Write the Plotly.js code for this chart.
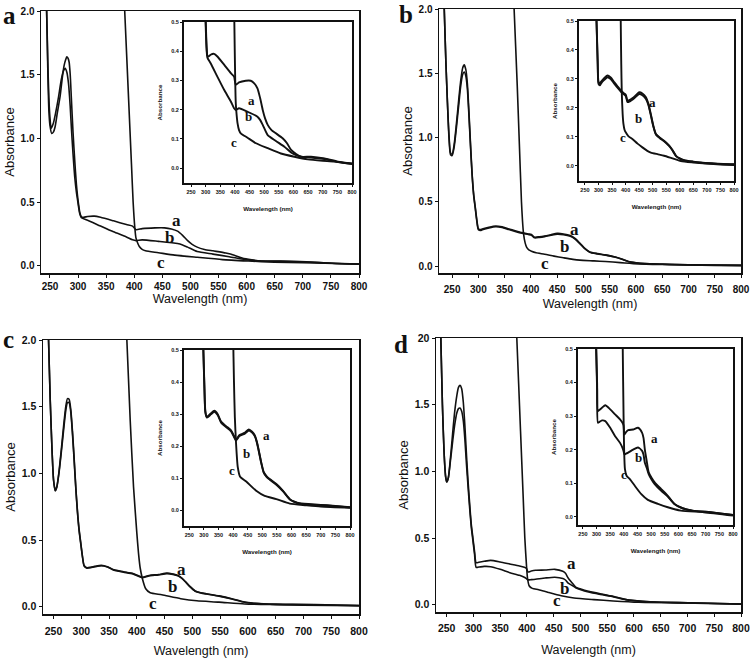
<!DOCTYPE html>
<html><head><meta charset="utf-8">
<script src="https://cdn.plot.ly/plotly-3.0.1.min.js"></script>
<style>html,body{margin:0;padding:0;background:#fff}#chart{width:750px;height:658px}</style>
</head><body><div id="chart"></div>
<script>
// ---------- Panel a ----------
const wlA_a = [236,241,244,246,248,250,253,256,259,263,268,272,275,278,280,282,284,286,288,291,294,297,299,301,303,306,310,317,329,340,363,386,397,403,414,437,454,466,477,486,495,503,512,525,540,563,578,592,609,626,660,706,752,800];
const absA_a = [3.0,2.3,2.0,1.56,1.22,1.1,1.04,1.05,1.09,1.2,1.33,1.48,1.57,1.62,1.64,1.63,1.6,1.5,1.32,1.05,0.83,0.64,0.55,0.48,0.42,0.385,0.382,0.388,0.391,0.382,0.354,0.325,0.313,0.285,0.293,0.299,0.299,0.29,0.273,0.24,0.199,0.17,0.148,0.13,0.119,0.102,0.085,0.062,0.048,0.039,0.039,0.033,0.022,0.016];
const wlA_b = [236,241,244,246,248,250,252,256,260,265,270,274,277,280,283,286,288,291,294,297,299,301,303,306,317,340,363,386,397,403,414,443,477,486,495,512,540,569,597,626,660,706,752,800];
const absA_b = [3.0,2.3,2.0,1.62,1.32,1.16,1.08,1.12,1.2,1.32,1.46,1.53,1.55,1.52,1.43,1.25,1.09,0.88,0.7,0.58,0.52,0.46,0.41,0.378,0.359,0.313,0.268,0.228,0.205,0.199,0.205,0.193,0.176,0.165,0.148,0.113,0.093,0.073,0.05,0.039,0.036,0.031,0.021,0.015];
const wlA_c = [370,383,390,395,398,401,403,406,409,414,420,443,472,512,557,603,649,700,740,800];
const absA_c = [3.3,2.0,1.3,0.8,0.5,0.3,0.22,0.18,0.153,0.13,0.119,0.104,0.085,0.068,0.05,0.039,0.03,0.025,0.022,0.014];

// ---------- Panel b ----------
const wlB = [226,231,235,238,241,244,247,250,254,258,262,266,270,273,276,279,282,285,288,291,294,297,300,305,309,320,333,345,358,370,383,395,401,407,416,426,438,450,462,475,484,493,502,512,527,542,561,573,586,600,616,650,677,720,760,800];
const absB_a = [3.5,2.6,2.0,1.6,1.28,1.02,0.88,0.87,0.95,1.1,1.27,1.43,1.54,1.565,1.53,1.42,1.2,0.95,0.72,0.56,0.46,0.36,0.29,0.284,0.29,0.302,0.312,0.305,0.289,0.275,0.26,0.25,0.245,0.225,0.228,0.234,0.244,0.254,0.25,0.237,0.215,0.179,0.14,0.11,0.097,0.087,0.07,0.055,0.035,0.026,0.02,0.015,0.012,0.009,0.007,0.006];
const absB_b = [3.5,2.6,2.0,1.6,1.28,1.0,0.865,0.86,0.93,1.07,1.23,1.39,1.49,1.51,1.48,1.38,1.17,0.93,0.71,0.55,0.45,0.35,0.283,0.278,0.284,0.296,0.306,0.3,0.284,0.27,0.256,0.246,0.24,0.22,0.223,0.229,0.239,0.248,0.244,0.231,0.21,0.175,0.137,0.108,0.095,0.085,0.068,0.053,0.034,0.025,0.019,0.014,0.011,0.008,0.006,0.005];
const wlB_c = [360,368,374,378,382,384,386,389,392,396,401,410,426,444,462,480,493,520,542,570,604,650,700,750,800];
const absB_c = [2.8,2.0,1.4,0.95,0.5,0.35,0.25,0.18,0.145,0.125,0.115,0.103,0.092,0.077,0.064,0.052,0.046,0.04,0.035,0.027,0.017,0.012,0.008,0.005,0.003];

// ---------- Panel c ----------
const wlC = [232,237,241,244,247,250,253,256,260,264,268,272,275,278,281,284,287,290,293,296,299,302,305,310,317,324,336,347,359,376,393,405,410,422,439,454,465,474,481,488,496,505,515,525,548,571,594,610,628,680,720,760,800];
const absC_a = [3.5,2.5,2.0,1.55,1.2,0.95,0.87,0.9,1.02,1.18,1.35,1.5,1.56,1.555,1.48,1.32,1.12,0.9,0.72,0.58,0.48,0.38,0.31,0.292,0.296,0.302,0.31,0.3,0.276,0.262,0.249,0.228,0.22,0.234,0.241,0.252,0.245,0.234,0.215,0.186,0.15,0.118,0.105,0.097,0.081,0.06,0.034,0.026,0.021,0.017,0.015,0.012,0.009];
const absC_b = [3.5,2.5,2.0,1.55,1.2,0.95,0.87,0.9,1.01,1.16,1.32,1.47,1.53,1.53,1.46,1.3,1.1,0.89,0.71,0.57,0.47,0.375,0.305,0.289,0.293,0.299,0.307,0.297,0.273,0.259,0.246,0.225,0.217,0.231,0.238,0.248,0.242,0.231,0.212,0.183,0.148,0.116,0.103,0.095,0.079,0.058,0.033,0.025,0.02,0.016,0.014,0.011,0.008];
const wlC_c = [370,382,388,394,400,403,406,410,416,424,445,479,508,548,594,650,700,800];
const absC_c = [3.0,2.0,1.4,0.9,0.55,0.4,0.29,0.21,0.134,0.104,0.089,0.06,0.044,0.034,0.02,0.015,0.011,0.007];

// ---------- Panel d ----------
const wlD = [230,235,239,242,245,248,250,253,257,261,265,269,272,275,278,281,284,287,290,293,296,299,302,305,310,320,332,350,368,386,395,399,402,408,416,434,452,467,472,477,484,491,502,513,537,561,585,615,651,717,760,800];
const absD_a = [3.5,2.6,2.0,1.5,1.15,0.96,0.92,0.95,1.1,1.28,1.45,1.57,1.63,1.645,1.62,1.52,1.34,1.12,0.92,0.75,0.6,0.5,0.4,0.315,0.318,0.325,0.332,0.32,0.305,0.29,0.28,0.272,0.245,0.252,0.258,0.26,0.265,0.25,0.235,0.2,0.165,0.132,0.115,0.102,0.082,0.062,0.038,0.025,0.018,0.013,0.009,0.005];
const absD_b = [3.5,2.6,2.0,1.5,1.15,0.96,0.92,0.95,1.08,1.22,1.35,1.44,1.47,1.475,1.45,1.38,1.24,1.05,0.88,0.72,0.58,0.48,0.38,0.28,0.282,0.287,0.285,0.265,0.24,0.22,0.205,0.195,0.186,0.188,0.191,0.2,0.206,0.196,0.185,0.161,0.145,0.127,0.11,0.097,0.077,0.06,0.038,0.025,0.018,0.013,0.009,0.005];
const wlD_c = [370,381,388,393,396,399,401,404,410,422,440,464,488,525,561,609,693,800];
const absD_c = [3.0,2.0,1.3,0.8,0.5,0.3,0.2,0.142,0.122,0.112,0.092,0.067,0.05,0.038,0.028,0.018,0.013,0.003];

// ---------- Tick labels ----------
const xTicks = [250,300,350,400,450,500,550,600,650,700,750,800];
const yMainTicks = [0,0.5,1,1.5,2];
const yMainText = ['0.0','0.5','1.0','1.5','2.0'];
const yMainTextD = ['0.0','0.5','1.0','1.5','20'];
const yInsetTicks = [0,0.1,0.2,0.3,0.4,0.5];
const yInsetText = ['0.0','0.1','0.2','0.3','0.4','0.5'];
const curveNames = ['a','b','c'];
const panelLetters = ['a','b','c','d'];

// ---------- Geometry (pixels) ----------
const W = 750, H = 658;
const panels = [
  {curves:[[wlA_a,absA_a],[wlA_b,absA_b],[wlA_c,absA_c]], yText:yMainText,
   main:{l:41,r:359,t:11,b:273,xr:[234,800],yr:[-0.055,2.0],tls:0,xts:2,fs:10},
   ins:{l:184,r:352,t:22,b:183,xr:[226,800],yr:[-0.051,0.5]},
   letter:[9,0,'top'],
   mainLab:[[476,0.36],[463.5,0.227],[447.5,0.03]],
   insLab:[[455,0.233],[445,0.178],[397,0.089]]},
  {curves:[[wlB,absB_a],[wlB,absB_b],[wlB_c,absB_c]], yText:yMainText,
   main:{l:439,r:741,t:9,b:273,xr:[225,800],yr:[-0.054,2.0],tls:3,xts:5,fs:10},
   ins:{l:579,r:734,t:21,b:181,xr:[228,800],yr:[-0.052,0.5]},
   letter:[406,15,'middle'],
   mainLab:[[483,0.286],[464,0.15],[427.5,0.02]],
   insLab:[[499,0.219],[446,0.162],[391,0.098]]},
  {curves:[[wlC,absC_a],[wlC,absC_b],[wlC_c,absC_c]], yText:yMainText,
   main:{l:43,r:359,t:340,b:614,xr:[231,800],yr:[-0.055,2.0],tls:4,xts:11,fs:10.5},
   ins:{l:184,r:350,t:350,b:526,xr:[232,800],yr:[-0.05,0.5]},
   letter:[8,339,'middle'],
   mainLab:[[480,0.282],[464,0.15],[429,0.026]],
   insLab:[[514,0.232],[447,0.176],[397,0.123]]},
  {curves:[[wlD,absD_a],[wlD,absD_b],[wlD_c,absD_c]], yText:yMainTextD,
   main:{l:436,r:741,t:338,b:612,xr:[230,800],yr:[-0.055,2.0],tls:3,xts:12,fs:10.5},
   ins:{l:578,r:733,t:349,b:525,xr:[232,800],yr:[-0.025,0.5]},
   letter:[401,344,'middle'],
   mainLab:[[484,0.31],[471,0.123],[456,0.035]],
   insLab:[[513,0.233],[455,0.176],[402,0.127]]}
];

const SANS = 'Liberation Sans, Arial, sans-serif';
const SERIF = 'Liberation Serif, Times New Roman, serif';
const INK = '#111';

const data = [];
const layout = {
  width: W, height: H, margin:{l:0,r:0,t:0,b:0},
  paper_bgcolor:'#fff', plot_bgcolor:'rgba(0,0,0,0)', showlegend:false,
  annotations: []
};

function axisBase(o){
  return Object.assign({showline:true, mirror:true, linecolor:INK, showgrid:false, zeroline:false,
    ticks:'outside', tickcolor:INK, fixedrange:true, ticklabeloverflow:'allow'}, o);
}

panels.forEach((p, i) => {
  const mi = 2*i+1, ii = 2*i+2;
  const mx = 'x'+(mi===1?'':mi), my = 'y'+(mi===1?'':mi);
  const ix = 'x'+ii, iy = 'y'+ii;
  const mxk = 'xaxis'+(mi===1?'':mi), myk = 'yaxis'+(mi===1?'':mi);
  const ixk = 'xaxis'+ii, iyk = 'yaxis'+ii;
  const m = p.main, s = p.ins;

  layout[mxk] = axisBase({domain:[m.l/W, m.r/W], range:m.xr, anchor:my, linewidth:1.5,
    tickvals:xTicks, ticklen:3, tickwidth:1, ticklabelstandoff:m.tls,
    tickfont:{family:SANS, size:m.fs, color:INK, weight:'bold'},
    title:{text:'Wavelength (nm)', font:{family:SANS, size:12.5, color:INK}, standoff:m.xts}});
  layout[myk] = axisBase({domain:[1-m.b/H, 1-m.t/H], range:m.yr, anchor:mx, linewidth:1.5,
    tickvals:yMainTicks, ticktext:p.yText, ticklen:3, tickwidth:1,
    tickfont:{family:SANS, size:m.fs, color:INK, weight:'bold'},
    title:{text:'Absorbance', font:{family:SANS, size:13, color:INK}, standoff:3}});
  layout[ixk] = axisBase({domain:[s.l/W, s.r/W], range:s.xr, anchor:iy, linewidth:2,
    tickvals:xTicks, ticklen:2, tickwidth:1,
    tickfont:{family:SANS, size:5.5, color:INK, weight:'bold'},
    title:{text:'Wavelength (nm)', font:{family:SANS, size:6.2, color:INK, weight:'bold'}, standoff:13}});
  layout[iyk] = axisBase({domain:[1-s.b/H, 1-s.t/H], range:s.yr, anchor:ix, linewidth:2,
    tickvals:yInsetTicks, ticktext:yInsetText, ticklen:2, tickwidth:1,
    tickfont:{family:SANS, size:5.5, color:INK, weight:'bold'},
    title:{text:'Absorbance', font:{family:SANS, size:6.2, color:INK, weight:'bold'}, standoff:8}});

  p.curves.forEach((c, k) => {
    data.push({type:'scatter', mode:'lines', x:c[0], y:c[1], xaxis:mx, yaxis:my,
      name:curveNames[k], line:{color:INK, width:1.6, shape:'spline', smoothing:0.6}, hoverinfo:'skip'});
    data.push({type:'scatter', mode:'lines', x:c[0], y:c[1], xaxis:ix, yaxis:iy,
      name:curveNames[k], line:{color:INK, width:1.9, shape:'spline', smoothing:0.6}, hoverinfo:'skip'});
  });

  layout.annotations.push({xref:'paper', yref:'paper', x:p.letter[0]/W, y:1-p.letter[1]/H,
    xanchor:'center', yanchor:p.letter[2], text:'<b>'+panelLetters[i]+'</b>', showarrow:false,
    font:{family:SERIF, size:25, color:INK}});
  p.mainLab.forEach((L, k) => layout.annotations.push({xref:mx, yref:my, x:L[0], y:L[1],
    xanchor:'center', yanchor:'middle', text:'<b>'+curveNames[k]+'</b>', showarrow:false,
    font:{family:SERIF, size:17, color:INK}}));
  p.insLab.forEach((L, k) => layout.annotations.push({xref:ix, yref:iy, x:L[0], y:L[1],
    xanchor:'center', yanchor:'middle', text:'<b>'+curveNames[k]+'</b>', showarrow:false,
    font:{family:SERIF, size:13, color:INK}}));
});

Plotly.newPlot('chart', data, layout, {staticPlot:true, displayModeBar:false});
</script>
</body></html>
